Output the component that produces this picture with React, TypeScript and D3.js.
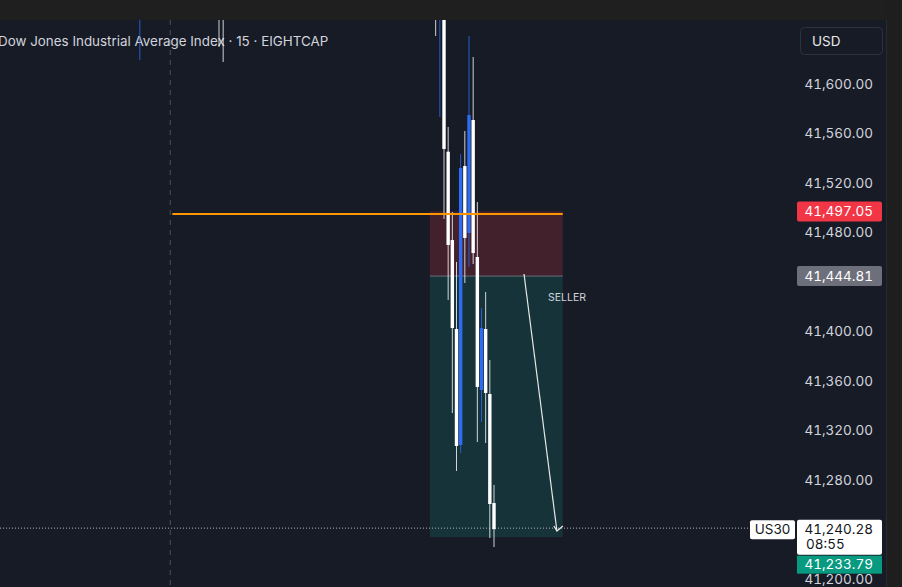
import * as d3 from 'd3'

const W = 902
const H = 587

// 15m bar slots (0 = first candle of the sell-off cluster)
const slots = [-73, -54, -53, -2, -1, 0, 1, 2, 3, 4, 5, 6, 7, 8, 9, 10, 11, 12]
const opens = [41668, 41690, 41672, 41700, 41660, 41662, 41545.3, 41473.9, 41402.0, 41308.3, 41533.7, 41479.6, 41570.9, 41460.2, 41352.7, 41402.0, 41349.5, 41261.4]
const highs = [41715, 41700, 41680, 41710, 41712, 41670, 41565.3, 41496.6, 41456.2, 41543.4, 41562.0, 41638.8, 41621.8, 41504.6, 41419.0, 41431.9, 41377.0, 41276.0]
const lows = [41619.4, 41629.9, 41617.8, 41638.8, 41573.3, 41490.9, 41425.5, 41334.1, 41287.3, 41301.8, 41439.2, 41452.1, 41454.5, 41310.7, 41326.9, 41309.9, 41233.1, 41225.8]
const closes = [41702, 41660, 41655, 41665, 41705, 41547.5, 41469.9, 41402.8, 41307.5, 41532.1, 41475.6, 41574.9, 41463.4, 41355.2, 41402.8, 41350.3, 41260.6, 41240.28]

// visible axis ticks (41,240 / 41,440 / 41,640 sit under the labels)
const priceTicks = [41200, 41280, 41320, 41360, 41400, 41480, 41520, 41560, 41600]

// short position drawing
const stopPrice = 41497.05
const entryPrice = 41444.81
const targetPrice = 41233.79
const lastPrice = 41240.28
const countdown = '08:55'
const symbol = 'US30'
const title = 'Dow Jones Industrial Average Index · 15 · EIGHTCAP'
const positionSlots = [-3.4, 28.5]
const levelStartSlot = -65.2
const sessionBreakSlot = -65.7
const arrowSlots = [19.2, 27.1]
const arrowPrices = [41446.5, 41238.8]

const FONT = 'Inter, "Noto Sans", sans-serif'
const BG = '#171b26'
const TEXT = '#d1d4dc'
const UP = '#2d6cf5'
const DOWN = '#ffffff'

const fmt = d3.format(',.2f')
const num = { fontVariantNumeric: 'tabular-nums' } as const

export default function App() {
  const x = d3.scaleLinear().domain([0, 12]).range([444, 494])
  const y = d3.scaleLinear().domain([41200, 41600]).range([579, 84])

  const candles = slots.map((s, i) => ({
    s,
    o: opens[i],
    h: highs[i],
    l: lows[i],
    c: closes[i],
  }))

  const bw = 3.4
  const axisRight = 873
  const boxL = 797
  const boxW = 85
  const fs = 13.5

  const px0 = x(positionSlots[0])
  const px1 = x(positionSlots[1])

  const ax0 = x(arrowSlots[0])
  const ay0 = y(arrowPrices[0])
  const ax1 = x(arrowSlots[1])
  const ay1 = y(arrowPrices[1])

  return (
    <svg
      width={W}
      height={H}
      style={{ position: 'absolute', left: 0, top: 0, fontFamily: FONT }}
    >
      <defs>
        <clipPath id="pane">
          <rect x={0} y={20} width={790} height={H - 20} />
        </clipPath>
      </defs>
      <rect width={W} height={H} fill={BG} />

      {/* session break */}
      <line
        x1={x(sessionBreakSlot)}
        x2={x(sessionBreakSlot)}
        y1={20}
        y2={H}
        stroke="#4c505b"
        strokeDasharray="5 5"
      />

      <text x={-2} y={46} fontSize={13.4} fill={TEXT}>
        {title}
      </text>

      <g clipPath="url(#pane)">
        {/* position zones */}
        <rect x={px0} y={y(stopPrice)} width={px1 - px0} height={y(entryPrice) - y(stopPrice)} fill="#43212c" />
        <rect x={px0} y={y(entryPrice)} width={px1 - px0} height={y(targetPrice) - y(entryPrice)} fill="#16333a" />
        <line x1={px0} x2={px1} y1={y(entryPrice)} y2={y(entryPrice)} stroke="#6b6f7a" strokeWidth={1} />

        {/* last price dotted line */}
        <line x1={0} x2={750} y1={y(lastPrice) - 1} y2={y(lastPrice) - 1} stroke="#b2b5be" strokeDasharray="1 2" />

        {/* candles */}
        {candles.map((d, i) => {
          const cx = x(d.s)
          const col = d.c >= d.o ? UP : DOWN
          const top = y(Math.max(d.o, d.c))
          const bot = y(Math.min(d.o, d.c))
          return (
            <g key={i}>
              <line x1={cx} x2={cx} y1={y(d.h)} y2={y(d.l)} stroke={col} strokeWidth={1} opacity={0.8} />
              <rect x={cx - bw / 2} y={top} width={bw} height={Math.max(1, bot - top)} fill={col} />
            </g>
          )
        })}

        {/* stop level */}
        <line
          x1={x(levelStartSlot)}
          x2={px1}
          y1={y(stopPrice) + 2.5}
          y2={y(stopPrice) + 2.5}
          stroke="#ff9800"
          strokeWidth={2}
        />

        {/* arrow */}
        <line x1={ax0} y1={ay0} x2={ax1} y2={ay1} stroke="#e8e8e8" strokeWidth={1.2} />
        <polyline
          points={`${ax1 - 3},${ay1 - 5} ${ax1},${ay1} ${ax1 + 6},${ay1 - 5}`}
          fill="none"
          stroke="#e8e8e8"
          strokeWidth={1.2}
        />
        <text x={548} y={y(entryPrice) + 25} fontSize={10.5} fill={TEXT}>
          SELLER
        </text>
      </g>

      {/* top header */}
      <rect x={0} y={0} width={W} height={20} fill="#1f1f1f" />
      {/* right border strip */}
      <rect x={886} y={0} width={W - 886} height={H} fill="#1e1e1e" />
      <line x1={886.5} x2={886.5} y1={20} y2={H} stroke="#2a2a2a" />

      {/* price axis */}
      {priceTicks.map((p) => (
        <text key={p} x={axisRight} y={y(p)} dy="0.35em" textAnchor="end" fontSize={fs} fill={TEXT} style={num}>
          {fmt(p)}
        </text>
      ))}

      {/* USD button */}
      <rect x={800.5} y={27.5} width={82} height={27} rx={4} fill={BG} stroke="#2f323c" />
      <text x={812} y={41} dy="0.35em" fontSize={fs} fill="#e8e8e8">
        USD
      </text>

      {/* stop label */}
      <rect x={boxL} y={y(stopPrice) - 10} width={boxW} height={20} rx={2} fill="#f23645" />
      <text x={axisRight} y={y(stopPrice)} dy="0.35em" textAnchor="end" fontSize={fs} fill="#ffffff" style={num}>
        {fmt(stopPrice)}
      </text>

      {/* entry label */}
      <rect x={boxL} y={y(entryPrice) - 10} width={boxW} height={20} rx={2} fill="#6d707b" />
      <text x={axisRight} y={y(entryPrice)} dy="0.35em" textAnchor="end" fontSize={fs} fill="#ffffff" style={num}>
        {fmt(entryPrice)}
      </text>

      {/* last price + symbol */}
      <rect x={750} y={y(lastPrice) - 9} width={45} height={19} rx={2} fill="#ffffff" />
      <text x={772.5} y={y(lastPrice) + 0.5} dy="0.35em" textAnchor="middle" fontSize={fs} fill="#131722">
        {symbol}
      </text>
      <rect x={boxL} y={y(lastPrice) - 9.5} width={boxW} height={35} rx={2} fill="#ffffff" />
      <text x={axisRight} y={y(lastPrice)} dy="0.35em" textAnchor="end" fontSize={fs} fill="#131722" style={num}>
        {fmt(lastPrice)}
      </text>
      <text x={806} y={y(lastPrice) + 15} dy="0.35em" fontSize={fs} fill="#131722" style={num}>
        {countdown}
      </text>

      {/* target label */}
      <rect x={boxL} y={y(lastPrice) + 26.5} width={boxW} height={18} fill="#089981" />
      <text x={axisRight} y={y(lastPrice) + 35} dy="0.35em" textAnchor="end" fontSize={fs} fill="#ffffff" style={num}>
        {fmt(targetPrice)}
      </text>
    </svg>
  )
}
